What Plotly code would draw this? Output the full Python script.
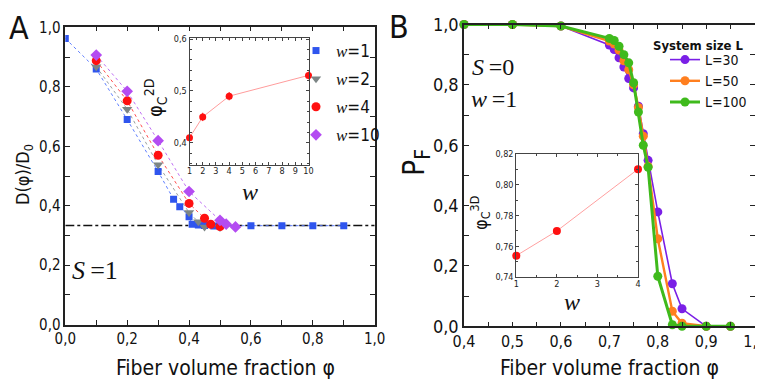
import plotly.graph_objects as go

# ---- panel A: diffusion coefficient vs fiber volume fraction (S=1) ----
phi_w1 = [0.0, 0.1, 0.2, 0.3, 0.35, 0.37, 0.40, 0.41, 0.43, 0.45, 0.48, 0.5, 0.6, 0.7, 0.8, 0.9]
d_w1 = [0.963, 0.860, 0.690, 0.515, 0.422, 0.397, 0.363, 0.338, 0.335, 0.334, 0.332, 0.333, 0.333, 0.333, 0.333, 0.333]
phi_w2 = [0.1, 0.2, 0.3, 0.4, 0.43, 0.45, 0.5]
d_w2 = [0.868, 0.725, 0.538, 0.377, 0.346, 0.329, 0.327]
phi_w4 = [0.1, 0.2, 0.3, 0.4, 0.45, 0.47, 0.5]
d_w4 = [0.888, 0.753, 0.570, 0.408, 0.358, 0.338, 0.330]
phi_w10 = [0.1, 0.2, 0.3, 0.4, 0.5, 0.52, 0.55]
d_w10 = [0.907, 0.785, 0.619, 0.448, 0.351, 0.338, 0.329]
d_plateau = 1 / 3

# inset A: critical fraction in 2D vs w
w_2d = [1, 2, 4, 10]
phic_2d = [0.41, 0.45, 0.49, 0.53]
phic_2d_err = [0.008, 0.008, 0.008, 0.008]

# ---- panel B: percolation probability (S=0, w=1) ----
phi_L30 = [0.4, 0.5, 0.6, 0.70, 0.71, 0.72, 0.73, 0.74, 0.75, 0.76, 0.77, 0.78, 0.80, 0.83, 0.85, 0.90, 0.95]
pf_L30 = [1.0, 1.0, 0.995, 0.932, 0.917, 0.890, 0.859, 0.821, 0.790, 0.729, 0.638, 0.550, 0.379, 0.141, 0.058, 0.0, 0.0]
phi_L50 = [0.4, 0.5, 0.6, 0.70, 0.71, 0.72, 0.73, 0.74, 0.75, 0.76, 0.77, 0.78, 0.80, 0.83, 0.85, 0.90, 0.95]
pf_L50 = [1.0, 1.0, 0.995, 0.945, 0.935, 0.915, 0.880, 0.850, 0.800, 0.725, 0.630, 0.530, 0.290, 0.050, 0.010, 0.0, 0.0]
phi_L100 = [0.4, 0.5, 0.6, 0.70, 0.71, 0.72, 0.73, 0.74, 0.75, 0.76, 0.77, 0.78, 0.80, 0.83, 0.85, 0.90, 0.95]
pf_L100 = [1.0, 1.0, 0.995, 0.954, 0.947, 0.928, 0.900, 0.873, 0.807, 0.710, 0.600, 0.527, 0.166, 0.005, 0.0, 0.0, 0.0]

# inset B: critical fraction in 3D vs w
w_3d = [1, 2, 4]
phic_3d = [0.754, 0.770, 0.810]

NARROW = "DejaVu Sans Condensed, Liberation Sans Narrow, sans-serif"
SERIF = "Liberation Serif, Times New Roman, serif"
W, H = 763, 381


def px(x, y):
    return x / W, 1 - y / H


fig = go.Figure()

# panel A series: dotted guide line + markers
series_a = [
    ("1", phi_w1, d_w1, "#2f55ee", "#5f7fff", "square", 7),
    ("2", phi_w2, d_w2, "#7c8585", "#9aa0a0", "triangle-down", 9),
    ("4", phi_w4, d_w4, "#ff1010", "#ff5050", "circle", 9),
    ("10", phi_w10, d_w10, "#b44cf2", "#c070f5", "diamond", 9),
]
fig.add_trace(go.Scatter(x=[0, 1], y=[d_plateau, d_plateau], mode="lines",
                         line=dict(color="#111", width=1.5, dash="dashdot"),
                         showlegend=False, xaxis="x", yaxis="y"))
for lab, xs, ys, col, lcol, sym, sz in series_a:
    fig.add_trace(go.Scatter(x=xs, y=ys, mode="lines",
                             line=dict(color=lcol, width=1, dash="dot"),
                             showlegend=False, xaxis="x", yaxis="y"))
for lab, xs, ys, col, lcol, sym, sz in series_a:
    fig.add_trace(go.Scatter(
        x=xs, y=ys, mode="markers",
        marker=dict(color=col, symbol=sym, size=sz, line=dict(width=0)),
        name=f"<span style='font-family:{SERIF}'><i>w</i></span>={lab}",
        legendgroup=lab, legend="legend", xaxis="x", yaxis="y"))

# inset A
fig.add_trace(go.Scatter(
    x=w_2d, y=phic_2d, mode="lines+markers",
    line=dict(color="#ff9c9c", width=1),
    marker=dict(color="#ff1010", size=7),
    error_y=dict(type="data", array=phic_2d_err, color="#ff1010", thickness=1, width=0),
    showlegend=False, cliponaxis=False, xaxis="x2", yaxis="y2"))

# panel B
series_b = [
    ("L=30", phi_L30, pf_L30, "#7a1fe6", 1.6),
    ("L=50", phi_L50, pf_L50, "#ff7f1f", 2.4),
    ("L=100", phi_L100, pf_L100, "#3fba1c", 3),
]
for name, xs, ys, col, lw in series_b:
    fig.add_trace(go.Scatter(
        x=xs, y=ys, mode="lines+markers", name=name,
        line=dict(color=col, width=lw), marker=dict(color=col, size=9),
        cliponaxis=False, legend="legend2", xaxis="x3", yaxis="y3"))

# inset B
fig.add_trace(go.Scatter(
    x=w_3d, y=phic_3d, mode="lines+markers",
    line=dict(color="#ffa0a0", width=1),
    marker=dict(color="#ff1010", size=8),
    showlegend=False, cliponaxis=False, xaxis="x4", yaxis="y4"))

main_ax = dict(showline=True, linecolor="#222", linewidth=1.5, mirror="allticks",
               ticks="inside", ticklen=5, tickcolor="#222", showgrid=False, zeroline=False,
               automargin=False, tickfont=dict(family=NARROW, size=15, color="#111"))
inset_ax = dict(showline=True, linecolor="#444", linewidth=1, mirror="allticks",
                ticks="inside", ticklen=3, tickcolor="#444", showgrid=False, zeroline=False,
                automargin=False, tickfont=dict(family=NARROW, size=9, color="#222"))

fig.update_layout(
    width=W, height=H, margin=dict(l=0, r=0, t=0, b=0),
    paper_bgcolor="white", plot_bgcolor="white",
    separators=",.",
    font=dict(family=NARROW, color="#111"),
    xaxis=dict(main_ax, domain=[57.3 / W, 366.7 / W], range=[0, 1], dtick=0.2, tickformat=".1f",
               minor=dict(dtick=0.1, ticks="inside", ticklen=5, tickcolor="#222"), anchor="y"),
    yaxis=dict(main_ax, domain=[1 - 316.7 / H, 1 - 18.5 / H], range=[0, 1.003], dtick=0.2,
               tickformat=".1f", minor=dict(dtick=0.1, ticks="inside", ticklen=5, tickcolor="#222"),
               anchor="x"),
    xaxis2=dict(inset_ax, domain=[181.5 / W, 300.5 / W], range=[1, 10], dtick=1,
                minor=dict(dtick=0.5, ticks="inside", ticklen=2, tickcolor="#444"), anchor="y2",
                ticklabelstandoff=-3),
    yaxis2=dict(inset_ax, domain=[1 - 156.7 / H, 1 - 30 / H], range=[0.358, 0.602], dtick=0.1,
                tickformat=".1f", minor=dict(dtick=0.02, ticks="inside", ticklen=2, tickcolor="#444"),
                anchor="x2"),
    xaxis3=dict(main_ax, domain=[456 / W, 746.7 / W], range=[0.4, 1.0], dtick=0.1, tickformat=".1f",
                minor=dict(dtick=0.05, ticks="inside", ticklen=5, tickcolor="#222"), anchor="y3",
                tickfont=dict(family=NARROW, size=16, color="#111")),
    yaxis3=dict(main_ax, domain=[1 - 318.3 / H, 1 - 16.5 / H], range=[0, 1.0], dtick=0.2,
                tickformat=".1f", minor=dict(dtick=0.1, ticks="inside", ticklen=5, tickcolor="#222"),
                anchor="x3", tickfont=dict(family=NARROW, size=18, color="#111")),
    xaxis4=dict(inset_ax, domain=[508.3 / W, 630 / W], range=[1, 4], dtick=1,
                minor=dict(dtick=0.5, ticks="inside", ticklen=2, tickcolor="#444"), anchor="y4",
                ticklabelstandoff=-2),
    yaxis4=dict(inset_ax, domain=[1 - 269.3 / H, 1 - 145.7 / H], range=[0.74, 0.82], dtick=0.02,
                tickformat=".2f", minor=dict(dtick=0.01, ticks="inside", ticklen=2, tickcolor="#444"),
                anchor="x4"),
    legend=dict(x=288 / W, y=1 - 25 / H, xanchor="left", yanchor="top", bgcolor="rgba(0,0,0,0)",
                font=dict(family=NARROW, size=17, color="#111"), itemwidth=30,
                traceorder="grouped", tracegroupgap=3),
    legend2=dict(x=657 / W, y=1 - 36 / H, xanchor="left", yanchor="top", bgcolor="rgba(0,0,0,0)",
                 font=dict(family=NARROW, size=14, color="#111"), itemwidth=30, tracegroupgap=0),
)

ann = [
    ("A", 11, 20, 32, NARROW, 0),
    ("B", 391, 19, 32, NARROW, 0),
    ("D(\u03c6)/D<sub>0</sub>", 16, 167, 18, NARROW, -90),
    ("Fiber volume fraction \u03c6", 217, 360, 21, NARROW, 0),
    ("Fiber volume fraction \u03c6", 601, 360, 21, NARROW, 0),
    ("P<sub>F</sub>", 407, 155, 30, NARROW, -90),
    ("\u03c6<sub>C</sub><sup>2D</sup>", 147, 90, 20, NARROW, -90),
    ("\u03c6<sub>C</sub><sup>3D</sup>", 472, 205, 18, NARROW, -90),
    ("<i>w</i>", 242, 184, 24, SERIF, 0),
    ("<i>w</i>", 564, 294, 24, SERIF, 0),
    ("<i>S</i>\u2009=1", 87, 262, 26, SERIF, 0),
    ("<i>S</i>\u2009=0", 485, 59, 24, SERIF, 0),
    ("<i>w</i>\u2009=1", 486, 91, 24, SERIF, 0),
    ("<b>System size L</b>", 690, 38, 13, NARROW, 0),
]
for text, x, y, size, fam, ang in ann:
    ax, ay = px(x, y)
    fig.add_annotation(x=ax, y=ay, xref="paper", yref="paper", text=text, showarrow=False,
                       xanchor="center", yanchor="middle", textangle=ang,
                       font=dict(family=fam, size=size, color="#111"))

fig.write_html("out.html")
